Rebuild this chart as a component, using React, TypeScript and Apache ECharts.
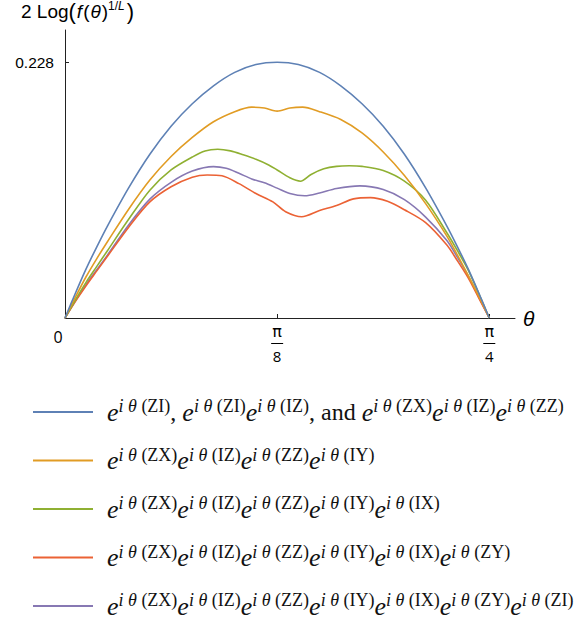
import React, { useEffect, useRef } from "react";
import * as echarts from "echarts";

// theta expressed as a fraction of pi/4, and the curve values
const blueT = [0, 0.025, 0.05, 0.075, 0.1, 0.15, 0.2, 0.25, 0.3, 0.35, 0.4, 0.45, 0.5, 0.55, 0.6, 0.65, 0.7, 0.75, 0.8, 0.85, 0.9, 0.925, 0.95, 0.975, 1];
const blueV = [0, 0.0225, 0.044, 0.0635, 0.082, 0.116, 0.146, 0.171, 0.191, 0.207, 0.219, 0.226, 0.228, 0.226, 0.219, 0.207, 0.191, 0.171, 0.146, 0.116, 0.082, 0.0635, 0.044, 0.0225, 0];

const orangeT = [0, 0.025, 0.05, 0.075, 0.1, 0.15, 0.2, 0.25, 0.3, 0.35, 0.4, 0.44, 0.47, 0.5, 0.53, 0.56, 0.6, 0.65, 0.7, 0.75, 0.8, 0.85, 0.9, 0.925, 0.95, 0.975, 1];
const orangeV = [0, 0.019, 0.037, 0.053, 0.068, 0.097, 0.123, 0.144, 0.161, 0.175, 0.184, 0.188, 0.1872, 0.1845, 0.1872, 0.188, 0.184, 0.177, 0.165, 0.148, 0.127, 0.102, 0.073, 0.056, 0.038, 0.0195, 0];

const greenT = [0, 0.025, 0.05, 0.075, 0.1, 0.15, 0.2, 0.25, 0.3, 0.33, 0.36, 0.39, 0.42, 0.45, 0.48, 0.5, 0.53, 0.555, 0.58, 0.61, 0.64, 0.67, 0.7, 0.75, 0.8, 0.85, 0.9, 0.925, 0.95, 0.975, 1];
const greenV = [0, 0.0165, 0.032, 0.046, 0.06, 0.088, 0.114, 0.132, 0.1435, 0.149, 0.1505, 0.149, 0.1455, 0.1415, 0.1365, 0.132, 0.125, 0.122, 0.128, 0.133, 0.1352, 0.1357, 0.1352, 0.1315, 0.122, 0.105, 0.076, 0.06, 0.043, 0.022, 0];

const redT = [0, 0.025, 0.05, 0.075, 0.1, 0.15, 0.2, 0.25, 0.3, 0.335, 0.37, 0.41, 0.45, 0.49, 0.52, 0.558, 0.6, 0.64, 0.68, 0.72, 0.76, 0.8, 0.85, 0.9, 0.925, 0.95, 0.975, 1];
const redV = [0, 0.015, 0.029, 0.042, 0.055, 0.081, 0.1035, 0.117, 0.1255, 0.1275, 0.1268, 0.1198, 0.111, 0.1035, 0.0948, 0.0903, 0.0958, 0.1003, 0.1062, 0.1073, 0.104, 0.0965, 0.085, 0.065, 0.051, 0.036, 0.018, 0];

const purpleT = [0, 0.025, 0.05, 0.075, 0.1, 0.15, 0.2, 0.25, 0.3, 0.35, 0.38, 0.41, 0.44, 0.47, 0.5, 0.53, 0.565, 0.6, 0.64, 0.695, 0.75, 0.8, 0.85, 0.9, 0.925, 0.95, 0.975, 1];
const purpleV = [0, 0.0155, 0.03, 0.043, 0.056, 0.083, 0.106, 0.121, 0.131, 0.135, 0.1335, 0.129, 0.124, 0.1205, 0.1158, 0.111, 0.109, 0.1115, 0.1155, 0.1178, 0.1145, 0.1055, 0.09, 0.069, 0.054, 0.038, 0.019, 0];

const seriesNames = ["s1", "s2", "s3", "s4", "s5"];
const seriesColors = ["#5E81B5", "#E19C24", "#8FB032", "#EB6235", "#8778B3"];
const legendOps = [
  null,
  ["ZX", "IZ", "ZZ", "IY"],
  ["ZX", "IZ", "ZZ", "IY", "IX"],
  ["ZX", "IZ", "ZZ", "IY", "IX", "ZY"],
  ["ZX", "IZ", "ZZ", "IY", "IX", "ZY", "ZI"],
];
const yTickValue = 0.228;
const yTickLabel = "0.228";
const xTickLabels = ["0", "π/8", "π/4"];

const block = (op: string) => `{e|e}{si|i θ }{s|(${op})}`;

const legendText = (idx: number) => {
  if (idx === 0) {
    return `${block("ZI")}{t|, }${block("ZI")}${block("IZ")}{t|, and }${block("ZX")}${block("IZ")}${block("ZZ")}`;
  }
  return (legendOps[idx] as string[]).map(block).join("");
};

export default function App() {
  const ref = useRef<HTMLDivElement>(null);
  useEffect(() => {
    document.body.style.margin = "0";
    if (!ref.current) return;
    const chart = echarts.init(ref.current, null, { renderer: "svg" });
    const q = Math.PI / 4;
    const mk = (T: number[], V: number[]) => T.map((t, i) => [t * q, V[i]]);
    const all = [
      mk(blueT, blueV),
      mk(orangeT, orangeV),
      mk(greenT, greenV),
      mk(redT, redV),
      mk(purpleT, purpleV),
    ];
    const serif = "'Liberation Serif', 'Times New Roman', serif";
    const sans = "'Liberation Sans', Arial, sans-serif";
    chart.setOption({
      animation: false,
      grid: { left: 65, right: 68, top: 30, bottom: 301, containLabel: false },
      xAxis: {
        type: "value",
        min: 0,
        max: 0.833,
        interval: Math.PI / 8,
        splitLine: { show: false },
        axisLine: { show: true, onZero: false, lineStyle: { color: "#222", width: 1 } },
        axisTick: { show: true, inside: true, length: 4, lineStyle: { color: "#222" } },
        axisLabel: {
          showMaxLabel: false,
          margin: 4,
          formatter: (v: number) => {
            const k = Math.round(v / (Math.PI / 8));
            if (k === 0) return "{zero|" + xTickLabels[0] + "}";
            const parts = xTickLabels[k].split("/");
            return `{pi|${parts[0]}}\n{bar| }\n{den|${parts[1]}}`;
          },
          rich: {
            zero: { fontSize: 16, lineHeight: 30, fontFamily: "'Open Sans', 'DejaVu Sans', sans-serif", color: "#000", padding: [0, 14, 0, 0] },
            pi: { fontSize: 16, lineHeight: 19, fontFamily: "'DejaVu Sans', sans-serif", color: "#000" },
            bar: { fontSize: 1, lineHeight: 5, width: 12, height: 1, backgroundColor: "#000", color: "#000" },
            den: { fontSize: 15, lineHeight: 19, fontFamily: "'Open Sans', 'DejaVu Sans', sans-serif", color: "#000" },
          },
        },
        name: "θ",
        nameLocation: "end",
        nameGap: 8,
        nameTextStyle: { fontSize: 21, fontStyle: "italic", fontFamily: sans, color: "#000" },
      },
      yAxis: {
        type: "value",
        min: 0,
        max: 0.2568,
        interval: yTickValue,
        splitLine: { show: false },
        axisLine: { show: true, onZero: false, lineStyle: { color: "#222", width: 1 } },
        axisTick: { show: true, inside: true, length: 4, lineStyle: { color: "#222" } },
        axisLabel: {
          showMaxLabel: false,
          margin: 11,
          fontSize: 15.5,
          fontFamily: sans,
          color: "#000",
          formatter: (v: number) => (v === 0 ? "" : yTickLabel),
        },
      },
      graphic: [
        {
          type: "text",
          left: 21,
          top: 0,
          style: {
            text: "{n|2 Log}{p|(}{i|f}{n|(}{i|θ}{n|)}{sup|1/}{supi|L}{p|)}",
            rich: {
              n: { fontSize: 19, fontFamily: sans, fill: "#000", lineHeight: 22 },
              i: { fontSize: 19, fontStyle: "italic", fontFamily: sans, fill: "#000", lineHeight: 22, padding: [0, 1, 0, 1] },
              p: { fontSize: 22, fontFamily: sans, fill: "#000", lineHeight: 22 },
              sup: { fontSize: 12, fontFamily: sans, fill: "#000", lineHeight: 16, verticalAlign: "top" },
              supi: { fontSize: 12, fontStyle: "italic", fontFamily: sans, fill: "#000", lineHeight: 16, verticalAlign: "top", padding: [0, 2, 0, 0] },
            },
          },
        },
      ],
      legend: {
        orient: "vertical",
        left: 28,
        top: 392,
        height: 300,
        icon: "rect",
        itemWidth: 60,
        itemHeight: 2,
        itemGap: 20.5,
        selectedMode: false,
        data: seriesNames,
        formatter: (name: string) => legendText(seriesNames.indexOf(name)),
        textStyle: {
          padding: [0, 0, 0, 9],
          color: "#000",
          rich: {
            e: { fontSize: 26, fontStyle: "italic", fontFamily: serif, color: "#111", lineHeight: 30 },
            t: { fontSize: 24, fontFamily: serif, color: "#111", lineHeight: 30 },
            si: { fontSize: 18, fontStyle: "italic", fontFamily: serif, color: "#111", lineHeight: 18, verticalAlign: "top" },
            s: { fontSize: 18, fontFamily: serif, color: "#111", lineHeight: 18, verticalAlign: "top" },
          },
        },
      },
      series: all.map((d, i) => ({
        name: seriesNames[i],
        type: "line",
        data: d,
        showSymbol: false,
        symbol: "none",
        smooth: 0.3,
        z: 10 - i,
        color: seriesColors[i],
        lineStyle: { color: seriesColors[i], width: 1.6 },
      })),
    });
    return () => chart.dispose();
  }, []);
  return <div ref={ref} style={{ width: 583, height: 619 }} />;
}
